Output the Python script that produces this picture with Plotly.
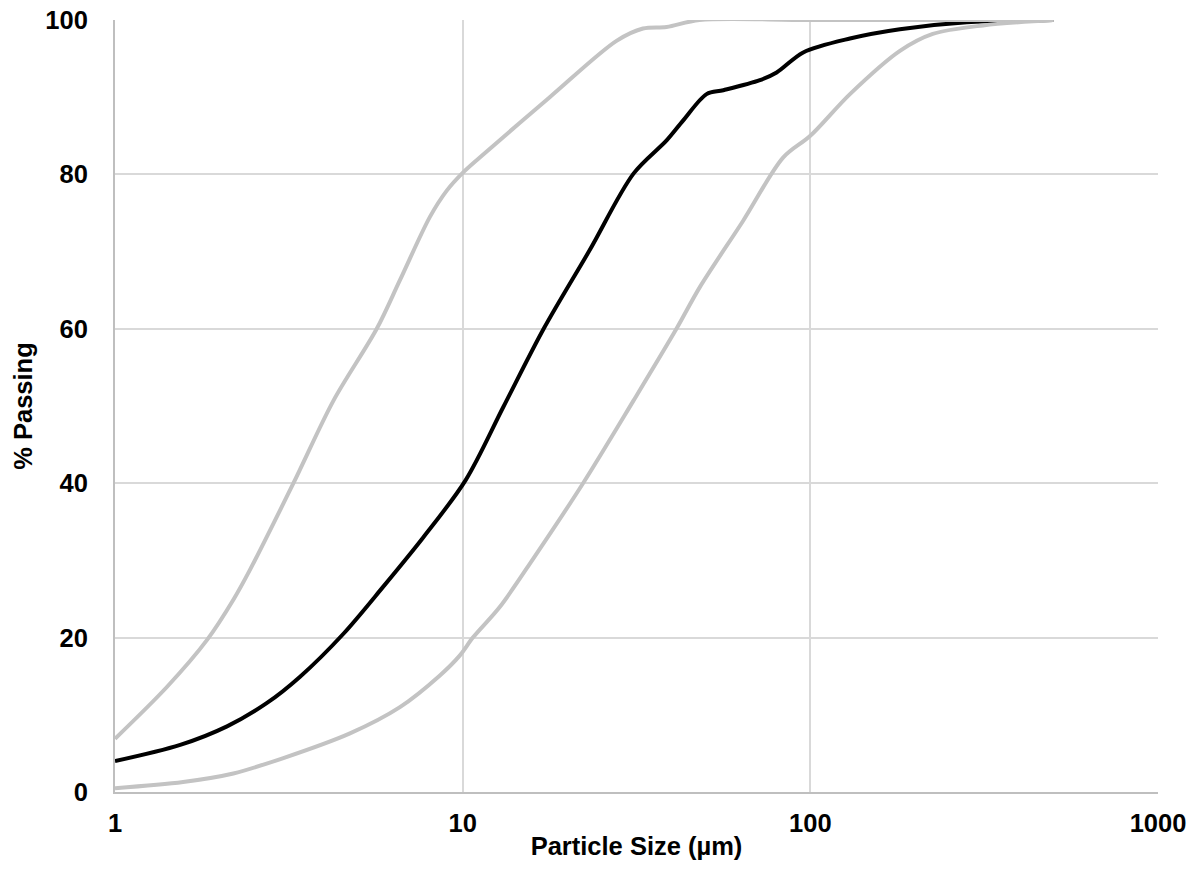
import plotly.graph_objects as go

# Particle size distribution: median gradation with fine and coarse envelopes
size_median = [1, 1.54, 2.1, 2.73, 3.4, 4.54, 5.91, 7.71, 10.2, 13.1, 17.1, 23.2,
               31, 38.6, 43.1, 50.3, 56.2, 71.6, 80, 95.4, 130, 181, 282, 500]
pass_median = [4.0, 6.1, 8.5, 11.5, 14.9, 20.5, 26.6, 33.0, 40.4, 49.9, 60.0, 70.2,
               80.1, 84.4, 87.0, 90.4, 90.9, 92.2, 93.2, 95.8, 97.6, 98.8, 99.7, 100]

size_fine = [1, 1.41, 1.84, 2.19, 2.44, 3.26, 4.25, 5.66, 6.6, 8.05, 9.0, 10, 11.2, 17.8,
             27.7, 33, 38.6, 48, 100, 500]
pass_fine = [6.9, 13.6, 19.7, 24.9, 28.7, 40.0, 50.7, 60.0, 66.3, 74.5, 77.9, 80.2, 82.2, 90.0,
             97.3, 98.9, 99.1, 100, 100, 100]

size_coarse = [1, 1.57, 2.19, 3.05, 4.74, 6.6, 8.6, 9.82, 10.7, 12.8, 16, 22.2, 31, 41.2,
               48.1, 64.1, 83.6, 100, 130, 181, 225, 314, 500]
pass_coarse = [0.5, 1.3, 2.4, 4.4, 7.6, 11.0, 15.1, 17.7, 20.0, 24.0, 30.3, 40.0, 50.7, 60.0,
               65.4, 74.0, 82.2, 85.0, 90.4, 96.0, 98.2, 99.3, 100]

x_ticks = [1, 10, 100, 1000]
y_ticks = [0, 20, 40, 60, 80, 100]

GREY = "#c3c3c3"
FONT = "Arial, Liberation Sans, sans-serif"
SMOOTH = 0.9

fig = go.Figure()
fig.add_trace(go.Scatter(x=size_median, y=pass_median, mode="lines",
                         line=dict(color="#000000", width=4, shape="spline", smoothing=SMOOTH),
                         showlegend=False))
fig.add_trace(go.Scatter(x=size_fine, y=pass_fine, mode="lines",
                         line=dict(color=GREY, width=4, shape="spline", smoothing=SMOOTH),
                         showlegend=False))
fig.add_trace(go.Scatter(x=size_coarse, y=pass_coarse, mode="lines",
                         line=dict(color=GREY, width=4, shape="spline", smoothing=SMOOTH),
                         showlegend=False))

fig.update_layout(
    width=1195, height=882,
    margin=dict(l=115, r=37, t=19.5, b=90),
    paper_bgcolor="white", plot_bgcolor="white",
    font=dict(family=FONT, size=25.5, color="#000000", weight="bold"),
)
fig.update_xaxes(
    type="log", range=[0, 3], tickvals=x_ticks, ticktext=[str(v) for v in x_ticks],
    showgrid=True, gridcolor="#d9d9d9", gridwidth=2,
    showline=True, linecolor="#bfbfbf", linewidth=2, mirror=False,
    ticks="", ticklabelstandoff=7, zeroline=False, automargin=False,
    title=dict(text="Particle Size (µm)", standoff=2,
               font=dict(family=FONT, size=25.5, weight="bold")),
)
fig.update_yaxes(
    range=[0, 100], tickvals=y_ticks, ticktext=[str(v) for v in y_ticks],
    showgrid=True, gridcolor="#d9d9d9", gridwidth=2,
    showline=True, linecolor="#bfbfbf", linewidth=2,
    ticks="", ticklabelstandoff=20, zeroline=False, automargin=False,
    title=dict(text="% Passing", standoff=5,
               font=dict(family=FONT, size=25.5, weight="bold")),
)

fig.write_html("out.html")
